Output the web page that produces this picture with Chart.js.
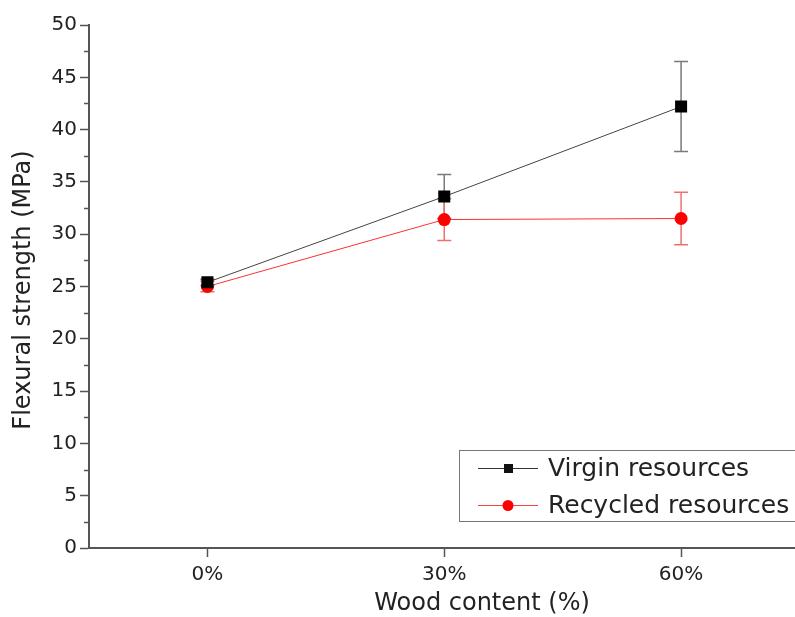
<!DOCTYPE html>
<html>
<head>
<meta charset="utf-8">
<script src="https://cdn.jsdelivr.net/npm/chart.js@4.4.1/dist/chart.umd.min.js"></script>
<style>
  html, body { margin: 0; padding: 0; background: #fff; overflow: hidden; }
  canvas { display: block; }
</style>
</head>
<body>
<canvas id="myChart" width="808" height="617"></canvas>
<script>
// data
const wood_content = ['0%', '30%', '60%']
const virgin = [25.4, 33.6, 42.2]
const virgin_err = [0.3, 2.1, 4.3]
const recycled = [25.0, 31.4, 31.5]
const recycled_err = [0.5, 2.0, 2.5]
const y_ticks = [0, 5, 10, 15, 20, 25, 30, 35, 40, 45, 50]

const FONT = "'DejaVu Sans', sans-serif"

// error bars, minor ticks, titles and the boxed legend
const extras = {
    id: 'extras',
    beforeDatasetsDraw(chart) {
        const ctx = chart.ctx
        const x = chart.scales.x, y = chart.scales.y
        const sets = [
            { vals: virgin, err: virgin_err, color: '#7a7a7a' },
            { vals: recycled, err: recycled_err, color: '#f07070' }
        ]
        ctx.save()
        ctx.lineWidth = 1.5
        sets.forEach(s => {
            ctx.strokeStyle = s.color
            s.vals.forEach((v, i) => {
                const px = x.getPixelForValue(i)
                const top = y.getPixelForValue(v + s.err[i])
                const bot = y.getPixelForValue(v - s.err[i])
                ctx.beginPath()
                ctx.moveTo(px, top); ctx.lineTo(px, bot)
                ctx.moveTo(px - 7, top); ctx.lineTo(px + 7, top)
                ctx.moveTo(px - 7, bot); ctx.lineTo(px + 7, bot)
                ctx.stroke()
            })
        })
        ctx.restore()
    },
    afterDraw(chart) {
        const ctx = chart.ctx
        const y = chart.scales.y
        const area = chart.chartArea
        ctx.save()
        // minor ticks on y
        ctx.strokeStyle = '#555'
        ctx.lineWidth = 1.5
        for (let v = 2.5; v < 50; v += 5) {
            const py = Math.round(y.getPixelForValue(v)) + 0.5
            ctx.beginPath()
            ctx.moveTo(area.left - 5, py); ctx.lineTo(area.left, py)
            ctx.stroke()
        }
        // axis titles
        ctx.fillStyle = '#222'
        ctx.font = '24px ' + FONT
        ctx.textAlign = 'center'
        ctx.textBaseline = 'middle'
        ctx.fillText('Wood content (%)', 482, 604)
        ctx.save()
        ctx.translate(24, 290)
        ctx.rotate(-Math.PI / 2)
        ctx.fillText('Flexural strength (MPa)', 0, 0)
        ctx.restore()

        // legend box
        ctx.strokeStyle = '#777'
        ctx.lineWidth = 1
        ctx.strokeRect(459.5, 450.5, 400, 71)
        const items = [
            { label: 'Virgin resources', color: '#111', line: '#333', shape: 'rect', yy: 468 },
            { label: 'Recycled resources', color: '#ff0000', line: '#ff4040', shape: 'circle', yy: 505 }
        ]
        items.forEach(it => {
            ctx.strokeStyle = it.line
            ctx.lineWidth = 1
            ctx.beginPath()
            ctx.moveTo(478, it.yy + 0.5); ctx.lineTo(538, it.yy + 0.5)
            ctx.stroke()
            ctx.fillStyle = it.color
            if (it.shape == 'rect') {
                ctx.fillRect(504, it.yy - 4, 9, 9)
            } else {
                ctx.beginPath()
                ctx.arc(508, it.yy + 0.5, 5.5, 0, Math.PI * 2)
                ctx.fill()
            }
            ctx.fillStyle = '#222'
            ctx.font = '25px ' + FONT
            ctx.textAlign = 'left'
            ctx.textBaseline = 'middle'
            ctx.fillText(it.label, 548, it.yy + 1)
        })
        ctx.restore()
    }
}

const chart_el = document.getElementById('myChart')
let flex_chart = new Chart(chart_el, {
    type: 'line',
    data: {
        labels: wood_content,
        datasets: [{
            label: 'Virgin resources',
            data: virgin,
            borderColor: '#444',
            backgroundColor: '#000',
            borderWidth: 1,
            pointStyle: 'rect',
            pointRadius: 8.5,
            pointBorderWidth: 0,
            pointHoverRadius: 8.5,
            tension: 0
        }, {
            label: 'Recycled resources',
            data: recycled,
            borderColor: '#ff3030',
            backgroundColor: '#ff0000',
            borderWidth: 1,
            pointStyle: 'circle',
            pointRadius: 6.5,
            pointBorderWidth: 0,
            pointHoverRadius: 6.5,
            tension: 0
        }]
    },
    options: {
        responsive: false,
        animation: false,
        layout: {
            padding: { top: 25, right: 0, left: 0, bottom: 0 }
        },
        scales: {
            x: {
                type: 'category',
                offset: true,
                afterFit(scale) { scale.height = 69 },
                grid: {
                    offset: false,
                    drawOnChartArea: false,
                    drawTicks: true,
                    tickLength: 9,
                    tickWidth: 1.5,
                    tickColor: '#555'
                },
                border: { color: '#555', width: 2 },
                ticks: {
                    color: '#222',
                    padding: 6,
                    font: { family: FONT, size: 20 }
                }
            },
            y: {
                min: 0,
                max: 50,
                afterFit(scale) { scale.width = 89 },
                afterBuildTicks(scale) { scale.ticks = y_ticks.map(v => ({ value: v })) },
                grid: {
                    drawOnChartArea: false,
                    drawTicks: true,
                    tickLength: 9,
                    tickWidth: 1.5,
                    tickColor: '#555'
                },
                border: { color: '#555', width: 2 },
                ticks: {
                    color: '#222',
                    padding: 3,
                    font: { family: FONT, size: 20 }
                }
            }
        },
        plugins: {
            legend: { display: false },
            tooltip: { enabled: false }
        }
    },
    plugins: [extras]
})
</script>
</body>
</html>
